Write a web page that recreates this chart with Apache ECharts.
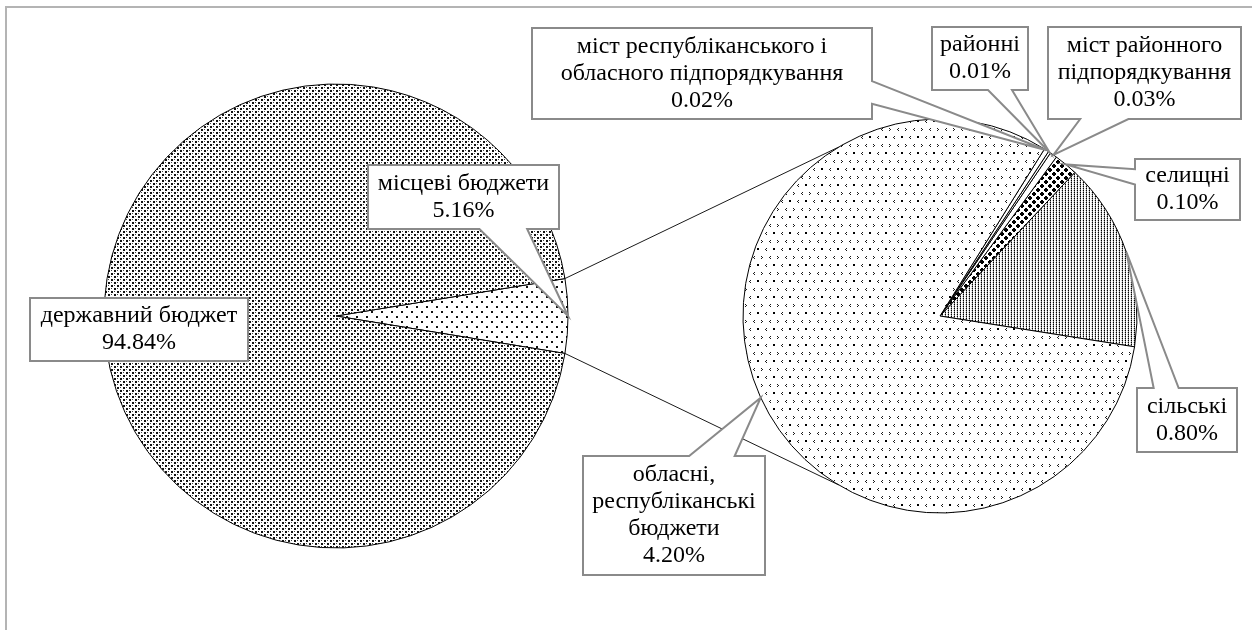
<!DOCTYPE html>
<html>
<head>
<meta charset="utf-8">
<script src="https://cdn.jsdelivr.net/npm/echarts@6/dist/echarts.min.js"></script>
<style>
  html, body { margin: 0; padding: 0; background: #ffffff; }
  #chart { width: 1252px; height: 630px; }
</style>
</head>
<body>
<div id="chart"></div>
<script>
// Структура доходів: державний і місцеві бюджети (%), розкладка місцевих бюджетів
const mainNames = ['місцеві бюджети', 'державний бюджет'];
const mainValues = [5.16, 94.84];

const subNames = [
  'сільські',
  'селищні',
  'міст районного\nпідпорядкування',
  'районні',
  'міст республіканського і\nобласного підпорядкування',
  'обласні,\nреспубліканські\nбюджети'
];
const subValues = [0.80, 0.10, 0.03, 0.01, 0.02, 4.20];

// ---- layout ----
const MAIN = { cx: 336, cy: 316, r: 232 };
const SUB = { cx: 940, cy: 316, r: 197, startAngle: -9 };
const CONNECT_SPREAD = 59;           // where the joining lines meet the second pie
const FONT_FAMILY = '"Liberation Serif", "Times New Roman", serif';
const FONT_SIZE = 24;
const LINE_H = 27;
const CALLOUT_STROKE = '#8a8a8a';

// label boxes: [left, top, width, height]
const mainBoxes = [[368, 165, 191, 64], [30, 298, 218, 63]];
const subBoxes = [
  [1137, 388, 100, 64],
  [1135, 159, 105, 61],
  [1048, 27, 193, 92],
  [932, 27, 96, 63],
  [532, 28, 340, 91],
  [583, 456, 182, 119]
];

// ---- fill patterns ----
function tile(w, h, draw) {
  const c = document.createElement('canvas');
  c.width = w; c.height = h;
  const g = c.getContext('2d');
  g.fillStyle = '#ffffff';
  g.fillRect(0, 0, w, h);
  draw(g);
  return { image: c, repeat: 'repeat' };
}
function px(g, color, pts) {
  g.fillStyle = color;
  pts.forEach(p => g.fillRect(p[0], p[1], p[2] || 1, p[3] || 1));
}

const patDense = tile(6, 6, g => {
  px(g, '#111', [[0, 0, 2, 2], [3, 3, 2, 2]]);
  px(g, '#444', [[3, 0], [0, 3]]);
});
const patSparse = tile(10, 10, g => {
  px(g, '#111', [[1, 1, 2, 2], [6, 6, 2, 2]]);
});
const patChevron = tile(16, 16, g => {
  // "<"
  px(g, '#1a1a1a', [[2, 0], [1, 1], [2, 2]]);
  // ">"
  px(g, '#1a1a1a', [[9, 0], [10, 1], [9, 2]]);
  // heavy dot
  px(g, '#000', [[5, 8, 2, 2]]);
  // "<"
  px(g, '#1a1a1a', [[14, 8], [13, 9], [14, 10]]);
});
const patVertical = tile(3, 2, g => {
  px(g, '#000', [[0, 0]]);
  px(g, '#888', [[0, 1]]);
  px(g, '#d0d0d0', [[2, 0]]);
});
const patDiamond = tile(8, 8, g => {
  px(g, '#000', [[1, 0, 2, 1], [0, 1, 4, 2], [1, 3, 2, 1], [5, 4, 2, 1], [4, 5, 4, 2], [5, 7, 2, 1]]);
});

const mainFills = [patSparse, patDense];
const subFills = [patVertical, patDiamond, '#ffffff', '#ffffff', '#ffffff', patChevron];

// ---- geometry helpers ----
const rad = d => d * Math.PI / 180;
const sum = a => a.reduce((s, v) => s + v, 0);
function onCircle(c, angle) {
  return [c.cx + c.r * Math.cos(rad(angle)), c.cy - c.r * Math.sin(rad(angle))];
}
function midAngles(values, start, clockwise) {
  const total = sum(values);
  let acc = 0;
  return values.map(v => {
    const m = start + (clockwise ? -1 : 1) * (acc + v / 2) / total * 360;
    acc += v;
    return m;
  });
}
const pct = v => v.toFixed(2) + '%';

// Rectangle callout with a wedge pointing at (tx, ty)
function calloutPoints(box, tx, ty) {
  const [x, y, w, h] = box;
  const r = x + w, b = y + h;
  if (tx >= x && tx <= r && ty >= y && ty <= b) {
    return [[x, y], [r, y], [r, b], [x, b]];
  }
  const dx = tx - (x + w / 2), dy = ty - (y + h / 2);
  const dz = Math.abs(dy) - Math.abs(dx * h / w);
  if (dz > 0) {
    const b1 = x + w * (dx > 0 ? 7 : 2) / 12, b2 = x + w * (dx > 0 ? 10 : 5) / 12;
    if (dy > 0) return [[x, y], [r, y], [r, b], [b2, b], [tx, ty], [b1, b], [x, b]];
    return [[x, y], [b1, y], [tx, ty], [b2, y], [r, y], [r, b], [x, b]];
  }
  const s1 = y + h * (dy > 0 ? 7 : 2) / 12, s2 = y + h * (dy > 0 ? 10 : 5) / 12;
  if (dx > 0) return [[x, y], [r, y], [r, s1], [tx, ty], [r, s2], [r, b], [x, b]];
  return [[x, y], [r, y], [r, b], [x, b], [x, s2], [tx, ty], [x, s1]];
}

// ---- derived angles ----
const mainHalf = 180 * mainValues[0] / sum(mainValues);
const mainMids = midAngles(mainValues, mainHalf, true);
const subMids = midAngles(subValues, SUB.startAngle, false);

// ---- graphic layer: frame, joining lines, callouts ----
const graphics = [];
graphics.push({
  type: 'rect', z: 0, silent: true,
  shape: { x: 6, y: 7, width: 1400, height: 800 },
  style: { fill: 'none', stroke: '#b4b4b4', lineWidth: 2 }
});

const joinTop = [onCircle(MAIN, mainHalf), onCircle(SUB, 180 - CONNECT_SPREAD)];
const joinBottom = [onCircle(MAIN, -mainHalf), onCircle(SUB, 180 + CONNECT_SPREAD)];
[joinTop, joinBottom].forEach(seg => {
  graphics.push({
    type: 'line', z: 10, silent: true,
    shape: { x1: seg[0][0], y1: seg[0][1], x2: seg[1][0], y2: seg[1][1] },
    style: { stroke: '#1a1a1a', lineWidth: 1 }
  });
});

function addCallout(box, name, value, tip, zBase) {
  graphics.push({
    type: 'polygon', z: zBase, silent: true,
    shape: { points: calloutPoints(box, tip[0], tip[1]) },
    style: { fill: '#ffffff', stroke: CALLOUT_STROKE, lineWidth: 2, lineJoin: 'miter' }
  });
  graphics.push({
    type: 'text', z: zBase + 1, silent: true,
    style: {
      text: name + '\n' + pct(value),
      x: box[0] + box[2] / 2, y: box[1] + box[3] / 2,
      align: 'center', verticalAlign: 'middle',
      textAlign: 'center', textVerticalAlign: 'middle',
      fontFamily: FONT_FAMILY, fontSize: FONT_SIZE,
      lineHeight: LINE_H, fill: '#000000'
    }
  });
}

mainNames.forEach((n, i) => addCallout(mainBoxes[i], n, mainValues[i], onCircle(MAIN, mainMids[i]), 20));
subNames.forEach((n, i) => addCallout(subBoxes[i], n, subValues[i], onCircle(SUB, subMids[i]), 30 + i * 2));

// ---- chart ----
const chart = echarts.init(document.getElementById('chart'), null, { renderer: 'canvas' });

const sliceStyle = { borderColor: '#000000', borderWidth: 1 };
chart.setOption({
  animation: false,
  backgroundColor: '#ffffff',
  series: [
    {
      type: 'pie',
      center: [MAIN.cx, MAIN.cy],
      radius: MAIN.r,
      startAngle: mainHalf,
      clockwise: true,
      minAngle: 0,
      avoidLabelOverlap: false,
      label: { show: false },
      labelLine: { show: false },
      emphasis: { disabled: true },
      silent: true,
      data: mainNames.map((n, i) => ({
        name: n, value: mainValues[i],
        itemStyle: Object.assign({ color: mainFills[i] }, sliceStyle)
      }))
    },
    {
      type: 'pie',
      center: [SUB.cx, SUB.cy],
      radius: SUB.r,
      startAngle: SUB.startAngle,
      clockwise: false,
      minAngle: 0,
      avoidLabelOverlap: false,
      label: { show: false },
      labelLine: { show: false },
      emphasis: { disabled: true },
      silent: true,
      data: subNames.map((n, i) => ({
        name: n, value: subValues[i],
        itemStyle: Object.assign({ color: subFills[i] }, sliceStyle)
      }))
    }
  ],
  graphic: { elements: graphics }
});
</script>
</body>
</html>
